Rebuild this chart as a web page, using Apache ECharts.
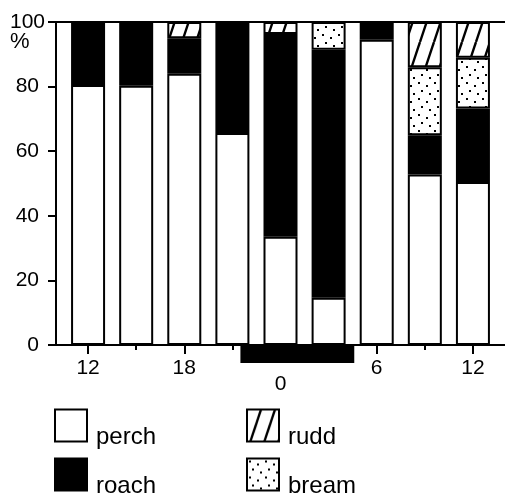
<!DOCTYPE html>
<html>
<head>
<meta charset="utf-8">
<script src="https://cdn.jsdelivr.net/npm/echarts@6/dist/echarts.min.js"></script>
<style>html,body{margin:0;padding:0;background:#fff;}#c{width:505px;height:495px;}</style>
</head>
<body>
<div id="c"></div>
<script>
// time of sampling (continuous hours: 24 = midnight, 36 = noon next day)
const hours = [12, 15, 18, 21, 24, 27, 30, 33, 36];
const perch = [80.5, 80.3, 84.0, 65.6, 33.5, 14.6, 94.5, 52.8, 50.5];
const roach = [19.5, 19.7, 11.0, 34.4, 62.8, 76.8, 5.5, 12.1, 22.7];
const bream = [0, 0, 0, 0, 0, 8.6, 0, 21.1, 15.7];
const rudd = [0, 0, 5.0, 0, 3.7, 0, 0, 14.0, 11.1];
const majorTicks = [12, 18, 24, 30, 36];
const minorTicks = [15, 21, 27, 33];
const axisMin = 10, axisMax = 38;
const nightStart = 21.5, nightEnd = 28.6;

const FONT = 'Liberation Sans';

// hourly category slots along the time axis
const slots = [];
for (let h = axisMin; h <= axisMax; h++) slots.push(h);

function hatch() {
  const c = document.createElement('canvas');
  c.width = 14; c.height = 42;
  const g = c.getContext('2d');
  g.fillStyle = '#fff'; g.fillRect(0, 0, 14, 42);
  g.strokeStyle = '#000'; g.lineWidth = 2.4;
  for (const dx of [-14, 0, 14]) {
    g.beginPath(); g.moveTo(dx, 42); g.lineTo(dx + 14, 0); g.stroke();
  }
  return c;
}
function dots() {
  const c = document.createElement('canvas');
  c.width = 16; c.height = 16;
  const g = c.getContext('2d');
  g.fillStyle = '#fff'; g.fillRect(0, 0, 16, 16);
  g.fillStyle = '#000';
  [[2, 2], [10, 5], [5, 10], [13, 13]].forEach(p => g.fillRect(p[0], p[1], 2, 2));
  return c;
}

function slotData(arr) {
  return slots.map(h => {
    const i = hours.indexOf(h);
    return (i >= 0 && arr[i] > 0) ? arr[i] : '-';
  });
}

const barBase = { type: 'bar', stack: 'all', barWidth: 34, xAxisIndex: 0, yAxisIndex: 0 };
const border = { borderColor: '#000', borderWidth: 2 };

const chart = echarts.init(document.getElementById('c'), null, { renderer: 'canvas' });
const legendCommon = {
  orient: 'vertical', top: 408.5, height: 100, padding: 0, itemWidth: 32, itemHeight: 32, itemGap: 8, icon: 'rect',
  formatter: n => '{s| }\n{t|' + n + '}',
  textStyle: {
    fontSize: 24, fontFamily: FONT, color: '#000',
    rich: {
      s: { fontSize: 10, lineHeight: 24 },
      t: { fontSize: 24, lineHeight: 22, fontFamily: FONT, color: '#000', padding: [0, 0, 0, 4] }
    }
  },
  itemStyle: { borderColor: '#000', borderWidth: 2 },
  selectedMode: false
};
const isMajor = (i, v) => majorTicks.indexOf(Number(v)) >= 0;
const isMinor = (i, v) => minorTicks.indexOf(Number(v)) >= 0;
chart.setOption({
  animation: false,
  backgroundColor: '#fff',
  grid: { left: 56, width: 449, top: 22, height: 323, containLabel: false, outerBoundsMode: 'none' },
  legend: [
    Object.assign({ data: ['perch', 'roach'], left: 54 }, legendCommon),
    Object.assign({ data: ['rudd', 'bream'], left: 246 }, legendCommon)
  ],
  xAxis: [
    {
      type: 'category', data: slots, boundaryGap: false, position: 'bottom',
      axisLine: { show: true, lineStyle: { color: '#000', width: 2 } },
      axisTick: { show: true, interval: isMajor, length: 9, lineStyle: { color: '#000', width: 2 } },
      axisLabel: {
        interval: isMajor, margin: 13, fontSize: 21, fontFamily: FONT, color: '#000',
        formatter: v => Number(v) === 24 ? '{low|0}' : String(Number(v) % 24),
        rich: { low: { fontSize: 21, fontFamily: FONT, color: '#000', padding: [16, 0, 0, 0] } }
      },
      splitLine: { show: false }
    },
    {
      type: 'category', data: slots, boundaryGap: false, position: 'bottom',
      axisLine: { show: false },
      axisTick: { show: true, interval: isMinor, length: 5, lineStyle: { color: '#000', width: 2 } },
      axisLabel: { show: false }, splitLine: { show: false }
    },
    {
      type: 'value', min: axisMin, max: axisMax, position: 'top',
      axisLine: { show: true, lineStyle: { color: '#000', width: 2 } },
      axisTick: { show: false }, axisLabel: { show: false }, splitLine: { show: false }
    }
  ],
  yAxis: {
    type: 'value', min: 0, max: 100, interval: 20,
    axisLine: { show: true, lineStyle: { color: '#000', width: 2 } },
    axisTick: { show: true, length: 8, lineStyle: { color: '#000', width: 2 } },
    axisLabel: {
      margin: 11, fontSize: 21, fontFamily: FONT, color: '#000',
      formatter: v => v === 100 ? '{e| }\n{a|100}\n{p|%}' : '{n|' + v + '}',
      rich: {
        n: { fontSize: 21, lineHeight: 21, fontFamily: FONT, color: '#000', padding: [0, 6, 0, 0] },
        a: { fontSize: 21, lineHeight: 20, fontFamily: FONT, color: '#000' },
        e: { fontSize: 21, lineHeight: 20, fontFamily: FONT, color: '#000' },
        p: { fontSize: 22, lineHeight: 20, fontFamily: FONT, color: '#000', align: 'left' }
      }
    },
    splitLine: { show: false }
  },
  series: [
    Object.assign({ name: 'perch', data: slotData(perch), itemStyle: Object.assign({ color: '#fff' }, border) }, barBase),
    Object.assign({ name: 'roach', data: slotData(roach), itemStyle: Object.assign({ color: '#000' }, border) }, barBase),
    Object.assign({ name: 'bream', data: slotData(bream), itemStyle: Object.assign({ color: { image: dots(), repeat: 'repeat' } }, border) }, barBase),
    Object.assign({ name: 'rudd', data: slotData(rudd), itemStyle: Object.assign({ color: { image: hatch(), repeat: 'repeat' } }, border) }, barBase),
    {
      type: 'custom', name: 'night', clip: false, xAxisIndex: 2, yAxisIndex: 0,
      data: [[nightStart, nightEnd]], encode: { x: [0, 1] }, z: 5,
      renderItem: (params, api) => {
        const s = api.coord([api.value(0), 0]);
        const e = api.coord([api.value(1), 0]);
        return { type: 'rect', shape: { x: s[0], y: s[1], width: e[0] - s[0], height: 18 }, style: { fill: '#000' } };
      }
    }
  ]
});
</script>
</body>
</html>
